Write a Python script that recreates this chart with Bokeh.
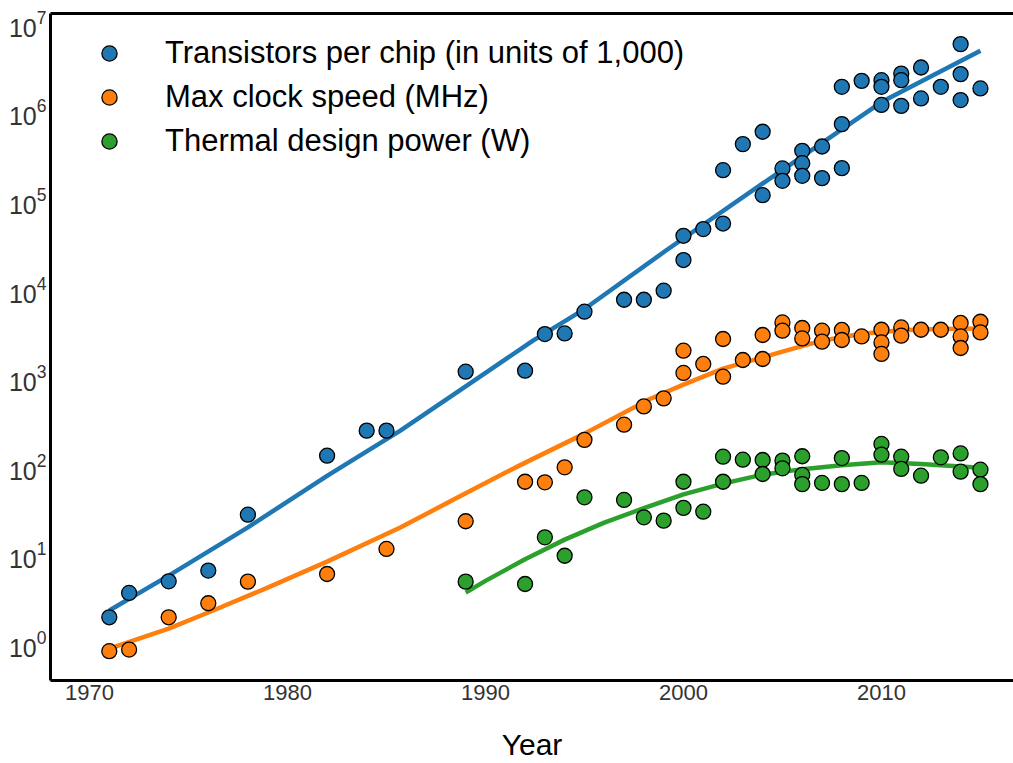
from bokeh.plotting import figure
from bokeh.models import Range1d, Legend, LegendItem, FixedTicker, LinearAxis
from bokeh.embed import file_html
from bokeh.resources import INLINE

# Transistors per chip (thousands)
tr_year = [1971, 1972, 1974, 1976, 1978, 1982, 1984, 1985, 1989, 1992, 1993, 1994,
           1995, 1997, 1998, 1999, 2000, 2000, 2001, 2002, 2002, 2003, 2004, 2004,
           2005, 2005, 2006, 2006, 2006, 2007, 2007, 2008, 2008, 2008, 2009, 2010,
           2010, 2010, 2011, 2011, 2011, 2012, 2012, 2013, 2014, 2014, 2014, 2015]
tr_value = [1.98, 3.73, 5.04, 6.66, 28.5, 132, 253, 253, 1170, 1200, 3110, 3165,
            5560, 7590, 7590, 9600, 21300, 40000, 47600, 55000, 220000, 433000, 597000, 115000,
            230000, 167000, 364000, 264000, 190000, 407000, 179000, 728000, 232000, 1920000, 2240000, 2280000,
            1920000, 1200000, 2710000, 2280000, 1170000, 3170000, 1420000, 1920000, 5820000, 2670000, 1360000, 1840000]

# Max clock speed (MHz)
clk_year = [1971, 1972, 1974, 1976, 1978, 1982, 1985, 1989, 1992, 1993, 1994, 1995,
            1997, 1998, 1999, 2000, 2000, 2001, 2002, 2002, 2003, 2004, 2004, 2005,
            2005, 2006, 2006, 2007, 2007, 2008, 2008, 2009, 2010, 2010, 2010, 2011,
            2011, 2012, 2013, 2014, 2014, 2014, 2015, 2015]
clk_value = [0.82, 0.855, 1.98, 2.85, 5.0, 6.1, 11.7, 24, 67, 66, 97.5, 199,
             295, 475, 585, 2020, 1132, 1430, 2735, 1028, 1585, 3035, 1627, 4210,
             3395, 3640, 2780, 3395, 2550, 3460, 2665, 2925, 3480, 2505, 1855, 3700,
             2980, 3480, 3480, 4150, 2925, 2165, 4285, 3250]

# Thermal design power (W)
tdp_year = [1989, 1992, 1993, 1994, 1995, 1997, 1998, 1999, 2000, 2001, 2000, 2002,
            2002, 2003, 2004, 2004, 2005, 2005, 2006, 2006, 2006, 2007, 2008, 2008,
            2009, 2010, 2010, 2011, 2011, 2012, 2013, 2014, 2014, 2015, 2015]
tdp_value = [5.0, 4.7, 15.8, 9.8, 44.7, 41.8, 26.6, 24.4, 34, 30.8, 67, 67,
             128.6, 119, 118, 82, 116, 95, 130, 80, 63, 65, 124, 63,
             65, 179, 135.5, 128.6, 93.5, 78.5, 126.4, 140, 87, 91.8, 63]

# Smoothed trend curves
tr_fit_year = [1971, 1974, 1978, 1982, 1985.7, 1989, 1992.4, 1995, 1999.1, 2004.2, 2010.1, 2015]
tr_fit_value = [2.36, 5.85, 20.5, 78, 253, 800, 2618, 5960, 27100, 167000, 1330000, 4890000]

clk_fit_year = [1971, 1974, 1976, 1979, 1982, 1985.7, 1988.2, 1991.5, 1995, 1998.33, 2000,
                2002, 2005, 2007, 2009, 2011, 2013, 2015]
clk_fit_value = [0.879, 1.476, 2.24, 4.28, 8.41, 20.4, 40.0, 96.7, 234, 580, 835,
                 1265, 1968, 2618, 3140, 3437, 3548, 3605]

tdp_fit_year = [1989, 1990, 1992, 1994, 1996, 1998, 2000, 2002, 2004, 2006, 2008, 2010, 2012, 2015]
tdp_fit_value = [3.76, 5.10, 8.95, 14.9, 23.2, 33.7, 48.3, 63.8, 80.6, 93.0, 103, 111.5, 106, 96.7]

labels = ["Transistors per chip (in units of 1,000)",
          "Max clock speed (MHz)",
          "Thermal design power (W)"]
colors = ["#1f77b4", "#ff7f0e", "#2ca02c"]

x_ticks = [1970, 1980, 1990, 2000, 2010]
y_ticks = [1, 10, 100, 1000, 10000, 100000, 1000000, 10000000]

FONT = "Liberation Sans"

p = figure(width=1013, height=763, y_axis_type="log",
           x_range=Range1d(1968.03, 2016.67), y_range=Range1d(0.383, 1.29e7),
           output_backend="svg", toolbar_location=None,
           min_border_left=50, min_border_right=0, min_border_top=13, min_border_bottom=83)

p.outline_line_color = None
p.xgrid.visible = False
p.ygrid.visible = False
p.background_fill_color = "white"
p.border_fill_color = "white"

for ax in (p.xaxis[0], p.yaxis[0]):
    ax.axis_line_width = 3
    ax.axis_line_color = "black"
    ax.major_tick_line_color = None
    ax.minor_tick_line_color = None
    ax.major_tick_out = 0
    ax.major_tick_in = 0
    ax.major_label_text_font = FONT
    ax.major_label_text_color = "#333333"

p.xaxis[0].major_label_text_font_size = "22px"
p.yaxis[0].major_label_text_font_size = "25px"
p.xaxis[0].ticker = FixedTicker(ticks=x_ticks)
p.yaxis[0].ticker = FixedTicker(ticks=y_ticks)
p.xaxis[0].major_label_standoff = 4
p.yaxis[0].major_label_standoff = 4
p.xaxis[0].axis_label = "Year"
p.xaxis[0].axis_label_text_font = FONT
p.xaxis[0].axis_label_text_font_size = "30px"
p.xaxis[0].axis_label_text_font_style = "normal"
p.xaxis[0].axis_label_text_color = "black"
p.xaxis[0].axis_label_standoff = 25

# top frame line
top = LinearAxis(ticker=FixedTicker(ticks=[]), axis_line_width=3, axis_line_color="black",
                 major_tick_line_color=None, minor_tick_line_color=None,
                 major_tick_out=0, major_tick_in=0, major_label_standoff=0)
p.add_layout(top, "above")

series = [(tr_year, tr_value, tr_fit_year, tr_fit_value),
          (clk_year, clk_value, clk_fit_year, clk_fit_value),
          (tdp_year, tdp_value, tdp_fit_year, tdp_fit_value)]

for (_, _, fx, fy), c in zip(series, colors):
    p.line(fx, fy, line_width=4.5, line_color=c, line_join="round")

items = []
for (x, y, _, _), c, lab in zip(series, colors, labels):
    r = p.scatter(x, y, size=15, fill_color=c, line_color="black", line_width=1.3)
    items.append(LegendItem(label=lab, renderers=[r]))

legend = Legend(items=items, location="top_left", margin=21, padding=0,
                glyph_width=76, glyph_height=38, label_standoff=18, spacing=6,
                label_text_font=FONT, label_text_font_size="31px", label_text_color="black",
                border_line_color=None, background_fill_alpha=0)
p.add_layout(legend)

open("out.html", "w").write(file_html(p, INLINE))
